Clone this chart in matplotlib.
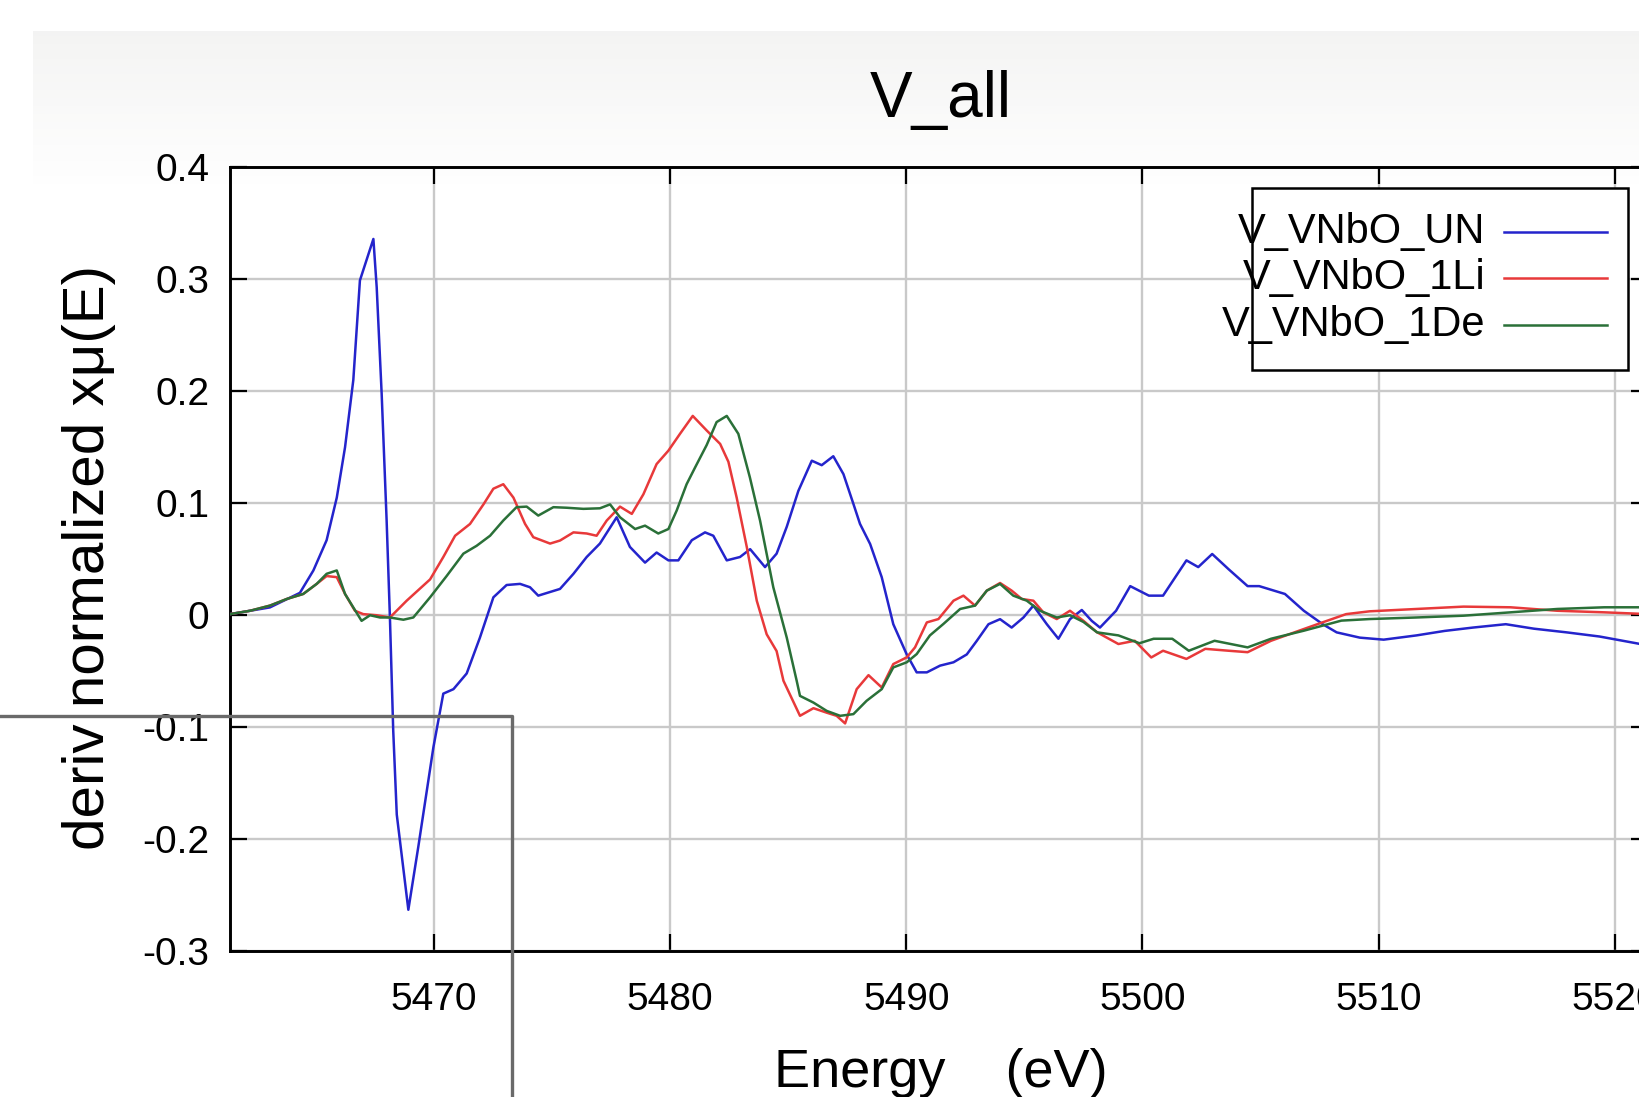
"""
V_all derivative XANES plot (gnuplot-style screenshot recreation)
"""

import matplotlib
matplotlib.use('Agg')
import numpy as np
import matplotlib.pyplot as plt
from matplotlib.patches import Rectangle
from matplotlib.lines import Line2D

plt.rcParams['font.family'] = ['Liberation Sans', 'DejaVu Sans']

# ------------------------------------------------------------------
# Data
# ------------------------------------------------------------------
un_e = [5461.37, 5462.22, 5463.06, 5464.33, 5464.9, 5465.46, 5465.89, 5466.24, 5466.59, 5466.87,
        5467.44, 5467.58, 5467.79, 5468.0, 5468.14, 5468.28, 5468.43, 5468.92, 5469.34, 5469.98,
        5470.40, 5470.83, 5471.39, 5471.95, 5472.52, 5473.08, 5473.65, 5474.07, 5474.42, 5475.34,
        5475.91, 5476.47, 5477.03, 5477.74, 5478.3, 5478.94, 5479.43, 5479.93, 5480.35, 5480.92,
        5481.48, 5481.83, 5482.4, 5482.96, 5483.39, 5484.02, 5484.51, 5484.94, 5485.43, 5486.0,
        5486.42, 5486.91, 5487.34, 5487.76, 5488.04, 5488.47, 5488.96, 5489.45, 5490.02, 5490.44,
        5490.87, 5491.43, 5492.0, 5492.56, 5492.98, 5493.48, 5493.97, 5494.46, 5494.96, 5495.38,
        5495.95, 5496.44, 5496.93, 5497.43, 5497.85, 5498.2, 5498.88, 5499.48, 5500.27, 5500.87,
        5501.86, 5502.36, 5502.95, 5503.65, 5504.45, 5504.94, 5506.03, 5506.83, 5507.63, 5508.22,
        5509.2, 5510.21, 5511.6, 5512.79, 5513.99, 5515.38, 5516.57, 5517.96, 5519.35, 5520.9,
        5521.4]
un_y = [0.001, 0.004, 0.007, 0.020, 0.040, 0.067, 0.105, 0.150, 0.210, 0.299,
        0.336, 0.293, 0.198, 0.085, -0.002, -0.103, -0.178, -0.263, -0.207, -0.118,
        -0.070, -0.066, -0.052, -0.020, 0.016, 0.027, 0.028, 0.025, 0.0175, 0.0235,
        0.037, 0.052, 0.064, 0.0875, 0.061, 0.047, 0.056, 0.049, 0.049, 0.067,
        0.074, 0.071, 0.049, 0.052, 0.059, 0.043, 0.055, 0.079, 0.111, 0.138,
        0.134, 0.142, 0.126, 0.0995, 0.0816, 0.0636, 0.034, -0.008, -0.035, -0.051,
        -0.051, -0.045, -0.042, -0.035, -0.023, -0.008, -0.0035, -0.011, -0.002, 0.0086,
        -0.008, -0.021, -0.0035, 0.0047, -0.005, -0.011, 0.004, 0.026, 0.0175, 0.0175,
        0.049, 0.043, 0.0547, 0.041, 0.026, 0.026, 0.019, 0.004, -0.008, -0.0153,
        -0.020, -0.0218, -0.018, -0.014, -0.011, -0.008, -0.012, -0.0153, -0.019, -0.025,
        -0.027]

li_e = [5461.37, 5462.22, 5463.06, 5463.77, 5464.47, 5465.04, 5465.46, 5465.89, 5466.24, 5466.66,
        5467.01, 5467.58, 5468.14, 5468.85, 5469.84, 5470.4, 5470.9, 5471.53, 5472.1, 5472.52,
        5472.94, 5473.37, 5473.86, 5474.21, 5474.92, 5475.34, 5475.91, 5476.47, 5476.89, 5477.32,
        5477.88, 5478.38, 5478.87, 5479.43, 5479.93, 5480.42, 5480.96, 5481.55, 5482.12, 5482.47,
        5482.82, 5483.25, 5483.67, 5484.09, 5484.51, 5484.8, 5485.5, 5486.07, 5486.63, 5487.05,
        5487.41, 5487.9, 5488.4, 5488.96, 5489.45, 5490.02, 5490.37, 5490.87, 5491.36, 5492.0,
        5492.42, 5492.91, 5493.41, 5493.97, 5494.46, 5494.89, 5495.38, 5495.8, 5496.37, 5496.93,
        5497.5, 5498.06, 5498.98, 5499.67, 5500.37, 5500.87, 5501.86, 5502.66, 5503.65, 5504.45,
        5505.44, 5506.63, 5507.63, 5508.62, 5509.61, 5511.6, 5513.59, 5515.58, 5517.56, 5519.55,
        5521.4]
li_y = [0.001, 0.004, 0.0086, 0.0145, 0.019, 0.028, 0.035, 0.034, 0.019, 0.004,
        0.001, 0.000, -0.002, 0.013, 0.032, 0.052, 0.071, 0.0815, 0.099, 0.113,
        0.117, 0.105, 0.0816, 0.0697, 0.064, 0.0667, 0.074, 0.073, 0.071, 0.0846,
        0.097, 0.0905, 0.108, 0.135, 0.147, 0.162, 0.178, 0.165, 0.153, 0.137,
        0.105, 0.0607, 0.013, -0.017, -0.032, -0.0585, -0.0898, -0.083, -0.087, -0.0898,
        -0.0966, -0.066, -0.0535, -0.0645, -0.0436, -0.0376, -0.0287, -0.0064, -0.0034, 0.013,
        0.0175, 0.0086, 0.022, 0.0288, 0.022, 0.0145, 0.013, 0.0026, -0.0034, 0.004,
        -0.005, -0.015, -0.0257, -0.0228, -0.0377, -0.0317, -0.039, -0.030, -0.0317, -0.033,
        -0.0228, -0.0138, -0.0063, 0.001, 0.0035, 0.0056, 0.0077, 0.0071, 0.004, 0.0026,
        0.001]

de_e = [5461.37, 5462.22, 5463.06, 5463.77, 5464.47, 5465.04, 5465.46, 5465.89, 5466.24, 5466.94,
        5467.3, 5467.72, 5468.14, 5468.71, 5469.13, 5469.84, 5470.54, 5471.25, 5471.81, 5472.38,
        5472.94, 5473.5, 5473.93, 5474.42, 5475.06, 5475.62, 5476.33, 5477.03, 5477.46, 5477.88,
        5478.52, 5478.94, 5479.5, 5479.93, 5480.28, 5480.7, 5481.06, 5481.55, 5481.97, 5482.4,
        5482.89, 5483.38, 5483.81, 5484.37, 5484.94, 5485.36, 5485.5, 5486.07, 5486.63, 5487.2,
        5487.76, 5488.32, 5488.96, 5489.45, 5490.02, 5490.44, 5491.0, 5491.57, 5492.28, 5492.91,
        5493.41, 5493.97, 5494.53, 5495.1, 5495.66, 5496.37, 5496.93, 5497.5, 5498.08, 5498.98,
        5499.87, 5500.47, 5501.26, 5501.96, 5503.05, 5504.45, 5505.44, 5506.83, 5508.42, 5509.61,
        5511.6, 5513.59, 5515.58, 5517.56, 5519.55, 5521.4]
de_y = [0.001, 0.004, 0.0086, 0.0145, 0.019, 0.028, 0.037, 0.040, 0.019, -0.005,
        0.000, -0.002, -0.002, -0.004, -0.002, 0.016, 0.035, 0.055, 0.062, 0.071,
        0.0846, 0.0965, 0.097, 0.089, 0.0965, 0.096, 0.095, 0.0955, 0.099, 0.0875,
        0.077, 0.080, 0.073, 0.077, 0.0935, 0.117, 0.132, 0.152, 0.1725, 0.178,
        0.162, 0.123, 0.0845, 0.025, -0.020, -0.0585, -0.072, -0.078, -0.0854, -0.0898,
        -0.0883, -0.0764, -0.066, -0.0466, -0.042, -0.0347, -0.018, -0.0078, 0.0056, 0.0086,
        0.022, 0.028, 0.0175, 0.013, 0.004, -0.002, 0.000, -0.006, -0.0153, -0.018,
        -0.025, -0.021, -0.021, -0.0317, -0.0228, -0.0287, -0.021, -0.0138, -0.0048, -0.0034,
        -0.002, -0.0004, 0.0026, 0.0056, 0.0071, 0.0071]

series_labels = ['V_VNbO_UN', 'V_VNbO_1Li', 'V_VNbO_1De']
series_colors = ['#2424cc', '#e8393a', '#2a7038']

x_ticks = [5470, 5480, 5490, 5500, 5510, 5520]
y_ticks = [-0.3, -0.2, -0.1, 0, 0.1, 0.2, 0.3, 0.4]
y_tick_labels = ['-0.3', '-0.2', '-0.1', '0', '0.1', '0.2', '0.3', '0.4']

# ------------------------------------------------------------------
W, H = 1639, 1097
fig = plt.figure(figsize=(W / 100, H / 100), dpi=100, facecolor='white')

# faint grey screenshot panel with gradient at the top
bg = fig.add_axes([33 / W, 0, 1 - 33 / W, 1 - 31 / H], zorder=-10)
grad = np.linspace(0, 1, 400).reshape(-1, 1)
alpha = np.clip(1 - grad * 1066 / 160, 0, 1) * 0.08
rgba = np.zeros((400, 1, 4))
rgba[..., 0] = 0.45
rgba[..., 1] = 0.45
rgba[..., 2] = 0.40
rgba[..., 3] = alpha
bg.imshow(rgba, aspect='auto', extent=[0, 1, 0, 1], origin='upper')
bg.axis('off')

ax = fig.add_axes([230 / W, 1 - 951.2 / H, (1648 - 230) / W, (951.2 - 167.3) / H])
ax.set_facecolor('none')

for e, y, lab, col in zip([un_e, li_e, de_e], [un_y, li_y, de_y], series_labels, series_colors):
    ax.plot(e, y, color=col, lw=1.8, label=lab, zorder=3)

ax.set_xlim(5461.37, 5521.4)
ax.set_ylim(-0.3, 0.4)
ax.set_xticks(x_ticks)
ax.set_xticklabels([str(t) for t in x_ticks])
ax.set_yticks(y_ticks)
ax.set_yticklabels(y_tick_labels)
ax.tick_params(direction='in', length=12, width=1.6, top=True, right=True,
               labelsize=28, colors='black')
ax.tick_params(axis='x', pad=22)
ax.tick_params(axis='y', pad=15)
ax.grid(True, color='#c9c9c9', lw=1.7)
ax.set_axisbelow(True)
for sp in ax.spines.values():
    sp.set_linewidth(2.1)
    sp.set_color('black')

# title and axis labels (gnuplot positions)
fig.text(941 / W, 1 - 117 / H, 'V_all', ha='center', va='baseline', fontsize=46)
fig.text(941 / W, 1 - 1087 / H, 'Energy    (eV)', ha='center', va='baseline', fontsize=39)
fig.text(89 / W, 1 - 557 / H, 'deriv normalized xμ(E)', ha='center', va='center',
         rotation=90, fontsize=42)

# gnuplot-style key: right-aligned text, sample line on the right
fig.patches.append(Rectangle((1252 / W, 1 - 370 / H), 376 / W, 182 / H, transform=fig.transFigure,
                             facecolor='white', edgecolor='black', lw=1.8, zorder=5))
row_y = [232, 278, 325]
for lab, col, ry in zip(series_labels, series_colors, row_y):
    fig.text(1485 / W, 1 - ry / H, lab, ha='right', va='center', fontsize=30, zorder=6)
    fig.lines.append(Line2D([1504 / W, 1607 / W], [1 - ry / H, 1 - ry / H], transform=fig.transFigure,
                            color=col, lw=1.8, zorder=6))

# overlay rectangle edge visible in the screenshot
fig.lines.append(Line2D([0, 512 / W, 512 / W], [1 - 716 / H, 1 - 716 / H, 0], transform=fig.transFigure,
                        color='#6a6a6a', lw=2.4, zorder=20))

fig.savefig('out.png', dpi=100, facecolor='white')
